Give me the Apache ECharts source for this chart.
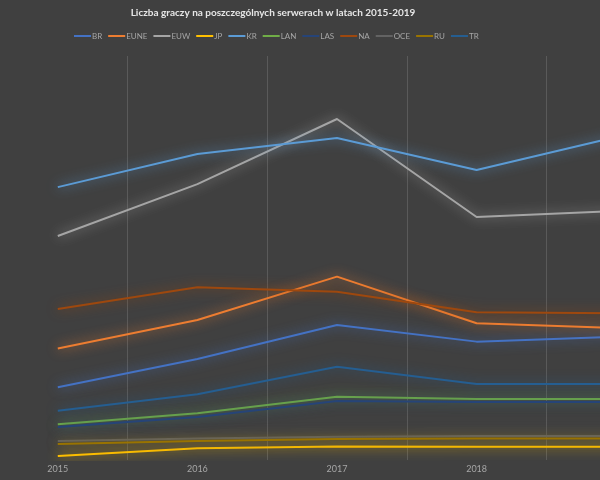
<!DOCTYPE html>
<html>
<head>
<meta charset="utf-8">
<script src="https://cdn.jsdelivr.net/npm/echarts@6/dist/echarts.min.js"></script>
<style>
  html, body { margin: 0; padding: 0; background: #404040; overflow: hidden; }
  /* the plot runs past the right edge, as in the cropped original */
  #chart { width: 698px; height: 480px; margin-left: -12px; }
</style>
</head>
<body>
<div id="chart"></div>
<script>
const years = ['2015', '2016', '2017', '2018', '2019']

const br   = [3.60, 5.00, 6.68, 5.86, 6.10]
const eune = [5.52, 6.93, 9.08, 6.77, 6.54]
const euw  = [11.09, 13.66, 16.88, 12.03, 12.33]
const jp   = [0.20, 0.58, 0.67, 0.66, 0.66]
const kr   = [13.51, 15.15, 15.94, 14.36, 15.99]
const lan  = [1.77, 2.31, 3.13, 3.02, 3.02]
const las  = [1.63, 2.13, 2.92, 2.87, 2.87]
const na   = [7.48, 8.55, 8.33, 7.31, 7.26]
const oce  = [0.94, 1.06, 1.15, 1.19, 1.19]
const ru   = [0.79, 0.94, 1.04, 1.06, 1.06]
const tr   = [2.44, 3.25, 4.62, 3.76, 3.76]

const servers = [
  ['BR', br, '#4472C4'],
  ['EUNE', eune, '#ED7D31'],
  ['EUW', euw, '#A5A5A5'],
  ['JP', jp, '#FFC000'],
  ['KR', kr, '#5B9BD5'],
  ['LAN', lan, '#70AD47'],
  ['LAS', las, '#264478'],
  ['NA', na, '#9E480E'],
  ['OCE', oce, '#636363'],
  ['RU', ru, '#997300'],
  ['TR', tr, '#255E91'],
]

const chart = echarts.init(document.getElementById('chart'))
const option = {
  backgroundColor: '#404040',
  animation: false,
  title: {
    text: 'Liczba graczy na poszczególnych serwerach w latach 2015-2019',
    left: 285,
    textAlign: 'center',
    top: 8,
    padding: 0,
    textStyle: { color: '#e6e6e6', fontSize: 10, fontWeight: 'bold', fontFamily: 'Lato' }
  },
  legend: {
    top: 32,
    left: 86,
    padding: 0,
    icon: 'rect',
    itemWidth: 17,
    itemHeight: 2,
    itemGap: 6,
    textStyle: { color: '#a6a6a6', fontSize: 8, fontFamily: 'Lato', padding: [0, 0, 0, -4] },
    data: servers.map(s => s[0])
  },
  grid: { left: 0, right: 0, top: 56, bottom: 20 },
  xAxis: {
    type: 'category',
    data: years,
    boundaryGap: true,
    axisLine: { show: false },
    axisTick: { show: false },
    axisLabel: { color: '#a6a6a6', fontSize: 9, fontFamily: 'Lato', margin: 5 },
    splitLine: { show: true, lineStyle: { color: '#5a5a5a', width: 1 } }
  },
  yAxis: {
    type: 'value',
    min: 0,
    max: 20,
    show: false,
    splitLine: { show: false }
  },
  series: servers.map(([name, values, color]) => ({
    name: name,
    type: 'line',
    data: values,
    showSymbol: false,
    color: color,
    lineStyle: { width: 2, color: color, shadowColor: color, shadowBlur: 12 }
  }))
}
chart.setOption(option)
</script>
</body>
</html>
